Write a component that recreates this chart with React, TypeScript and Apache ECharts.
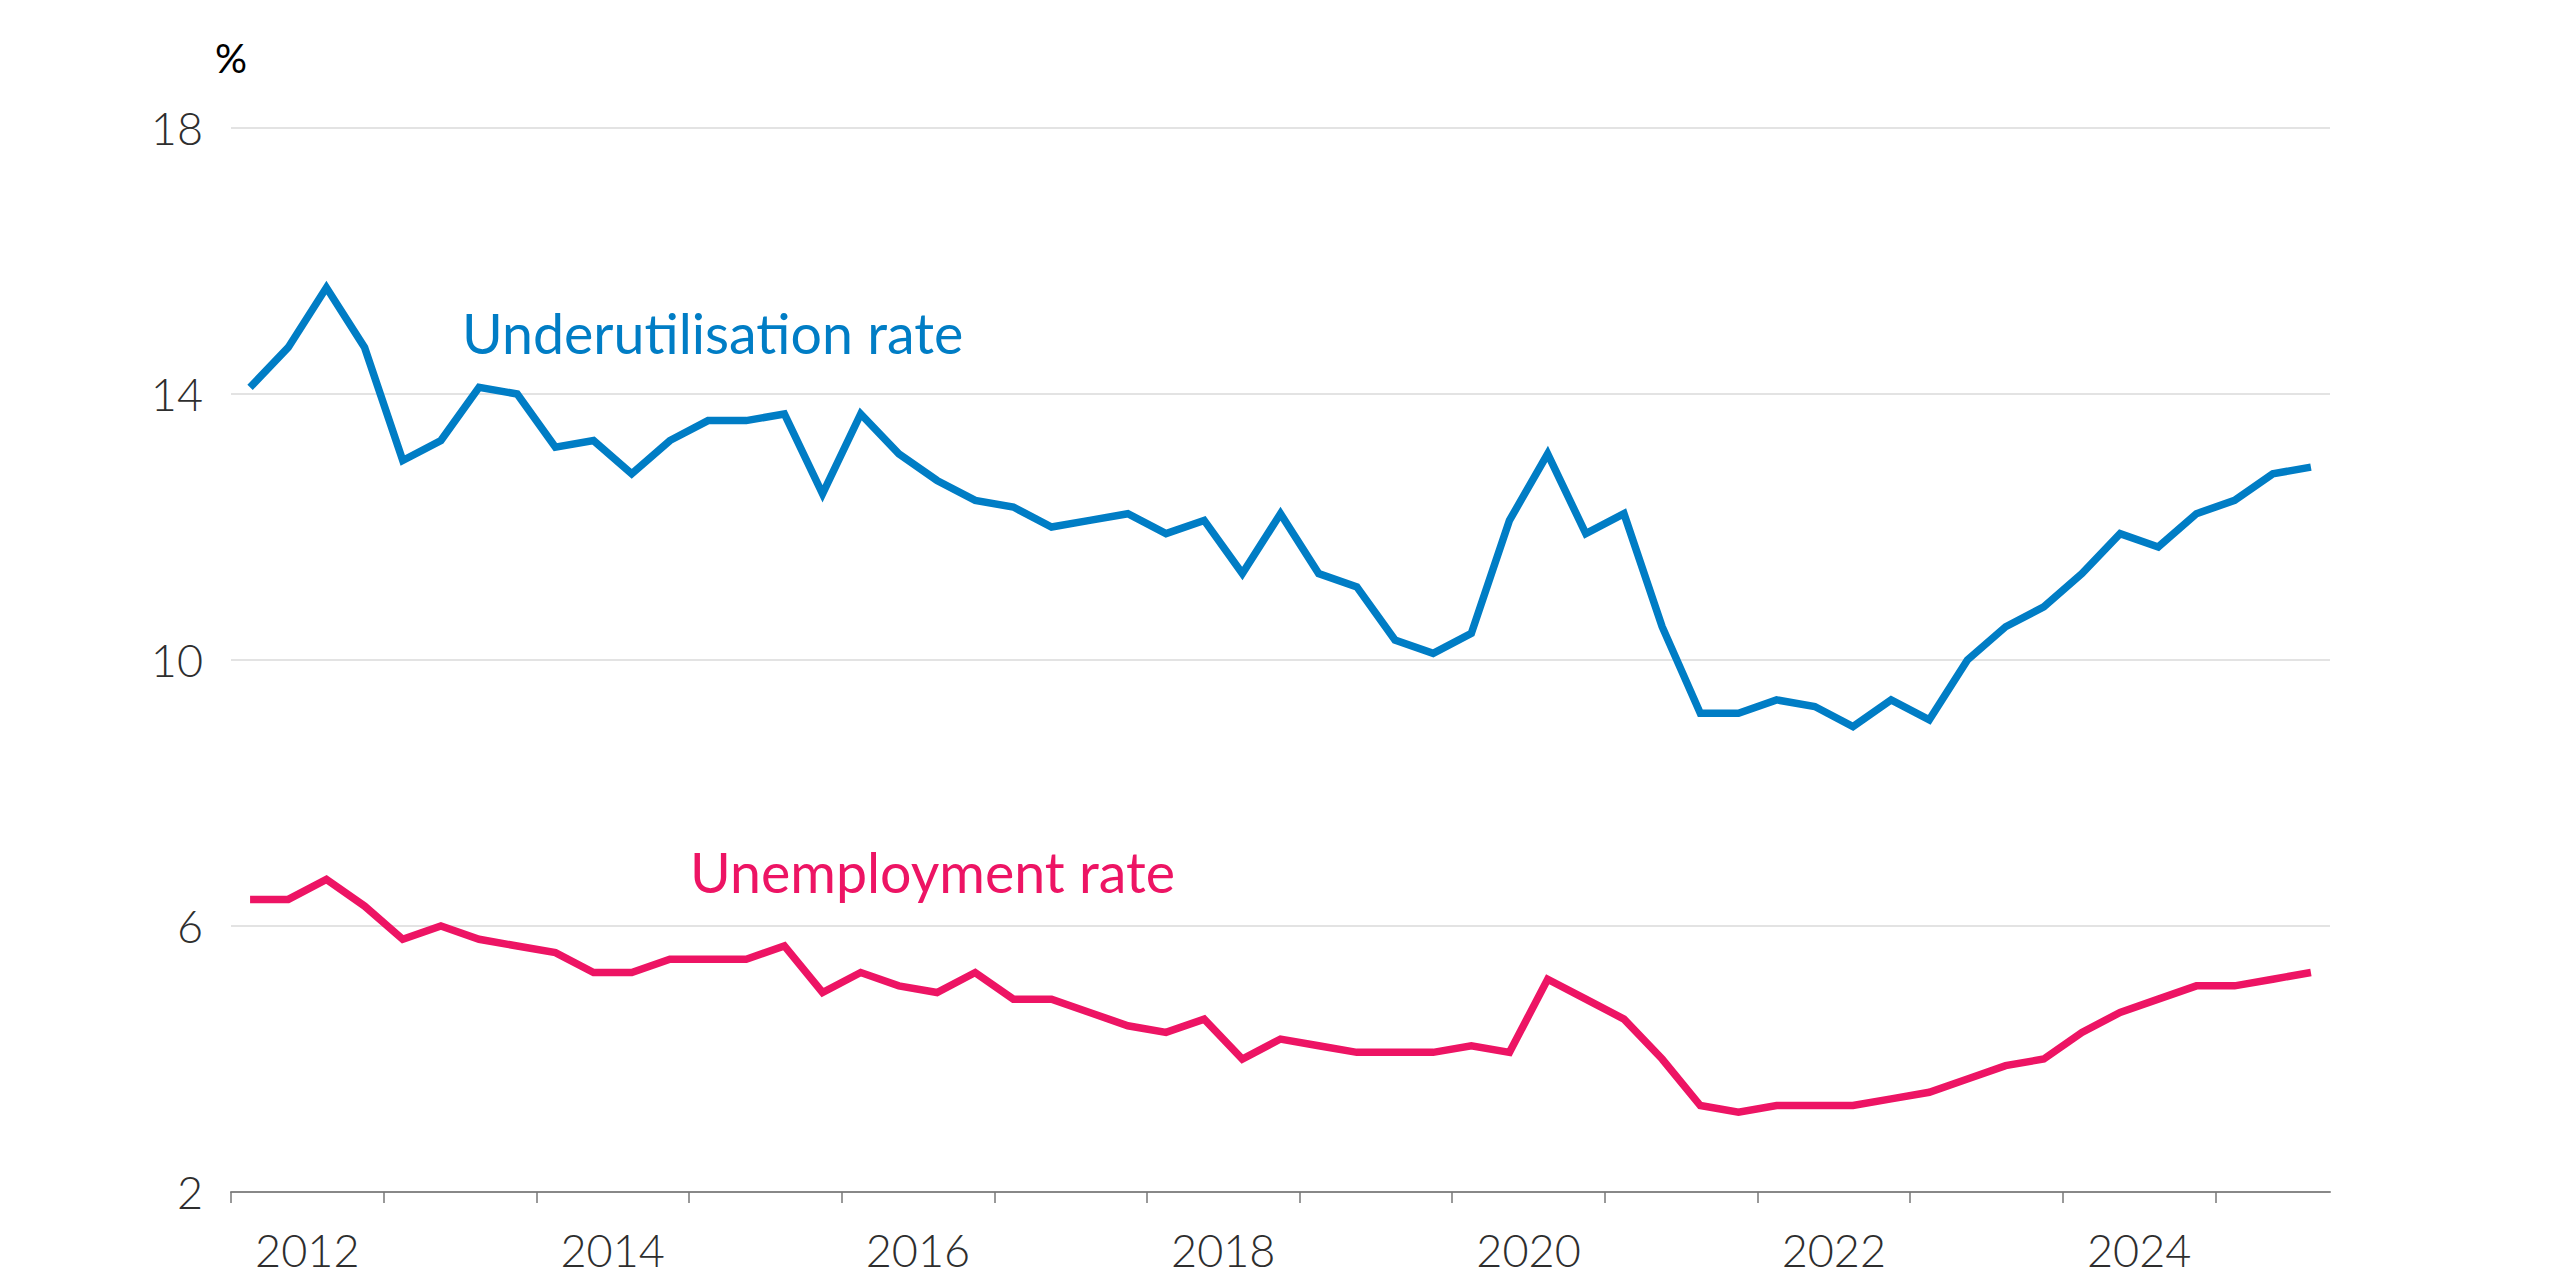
import { useEffect, useRef } from "react";
import * as echarts from "echarts";

// Quarterly categories: 2012 Q1 .. 2025 Q3
const startYear = 2012;
const quarterCount = 55;
const quarters: string[] = [];
for (let i = 0; i < quarterCount; i++) {
  quarters.push(`${startYear + Math.floor(i / 4)} Q${(i % 4) + 1}`);
}

const underutilisation = [
  14.1, 14.7, 15.6, 14.7, 13.0, 13.3, 14.1, 14.0, 13.2, 13.3, 12.8, 13.3,
  13.6, 13.6, 13.7, 12.5, 13.7, 13.1, 12.7, 12.4, 12.3, 12.0, 12.1, 12.2,
  11.9, 12.1, 11.3, 12.2, 11.3, 11.1, 10.3, 10.1, 10.4, 12.1, 13.1, 11.9,
  12.2, 10.5, 9.2, 9.2, 9.4, 9.3, 9.0, 9.4, 9.1, 10.0, 10.5, 10.8,
  11.3, 11.9, 11.7, 12.2, 12.4, 12.8, 12.9,
];

const unemployment = [
  6.4, 6.4, 6.7, 6.3, 5.8, 6.0, 5.8, 5.7, 5.6, 5.3, 5.3, 5.5,
  5.5, 5.5, 5.7, 5.0, 5.3, 5.1, 5.0, 5.3, 4.9, 4.9, 4.7, 4.5,
  4.4, 4.6, 4.0, 4.3, 4.2, 4.1, 4.1, 4.1, 4.2, 4.1, 5.2, 4.9,
  4.6, 4.0, 3.3, 3.2, 3.3, 3.3, 3.3, 3.4, 3.5, 3.7, 3.9, 4.0,
  4.4, 4.7, 4.9, 5.1, 5.1, 5.2, 5.3,
];

const yearTickLabels = ["2012", "2014", "2016", "2018", "2020", "2022", "2024"];
const yMin = 2;
const yMax = 18;
const yInterval = 4;

const seriesNames = ["Underutilisation rate", "Unemployment rate"];
const BLUE = "#007DC5";
const PINK = "#ED1464";

// Quarter boundaries (56 positions): year labels sit mid-year (2 quarters in)
const boundaries: string[] = Array.from({ length: quarterCount + 1 }, (_, i) =>
  i % 8 === 2 && yearTickLabels[(i - 2) / 8] ? yearTickLabels[(i - 2) / 8] : ""
);

export default function App() {
  const ref = useRef<HTMLDivElement>(null);

  useEffect(() => {
    if (!ref.current) return;
    const chart = echarts.init(ref.current, undefined, { renderer: "svg" });
    const labelFont = {
      fontFamily: "Lato",
      fontWeight: 300 as any,
      fontSize: 45,
      color: "#2e2e2e",
    };
    chart.setOption({
      animation: false,
      backgroundColor: "#ffffff",
      grid: { left: 231, right: 230, top: 128, bottom: 88 },
      xAxis: [
        {
          type: "category",
          data: quarters,
          boundaryGap: true,
          show: false,
        },
        {
          type: "category",
          data: boundaries,
          boundaryGap: false,
          position: "bottom",
          axisLine: { show: true, lineStyle: { color: "#888888", width: 2 } },
          axisTick: {
            show: true,
            interval: (i: number) => i % 4 === 0,
            length: 11,
            lineStyle: { color: "#777777", width: 1.5 },
          },
          axisLabel: {
            interval: 0,
            margin: 35,
            ...labelFont,
          },
          splitLine: { show: false },
        },
      ],
      yAxis: {
        type: "value",
        min: yMin,
        max: yMax,
        interval: yInterval,
        axisLine: { show: false },
        axisTick: { show: false },
        axisLabel: { margin: 28, ...labelFont },
        splitLine: { show: true, lineStyle: { color: "#e3e3e3", width: 2 } },
      },
      series: [
        {
          name: seriesNames[0],
          type: "line",
          xAxisIndex: 0,
          data: underutilisation,
          symbol: "none",
          lineStyle: { color: BLUE, width: 7.5, join: "miter", cap: "butt" },
          z: 3,
        },
        {
          name: seriesNames[1],
          type: "line",
          xAxisIndex: 0,
          data: unemployment,
          symbol: "none",
          lineStyle: { color: PINK, width: 7.5, join: "miter", cap: "butt" },
          z: 3,
        },
      ],
      graphic: [
        {
          type: "text",
          left: 215,
          top: 38,
          style: {
            text: "%",
            fontFamily: "Lato",
            fontSize: 40,
            fill: "#000000",
          },
        },
        {
          type: "text",
          x: 462,
          y: 332,
          style: {
            text: seriesNames[0],
            fontFamily: "Lato",
            fontSize: 55.5,
            fill: BLUE,
            verticalAlign: "middle",
            align: "left",
          },
        },
        {
          type: "text",
          x: 690,
          y: 871,
          style: {
            text: seriesNames[1],
            fontFamily: "Lato",
            fontSize: 55.5,
            fill: PINK,
            verticalAlign: "middle",
            align: "left",
          },
        },
      ],
    });
    return () => chart.dispose();
  }, []);

  return (
    <div
      ref={ref}
      style={{ position: "absolute", left: 0, top: 0, width: 2560, height: 1280 }}
    />
  );
}
